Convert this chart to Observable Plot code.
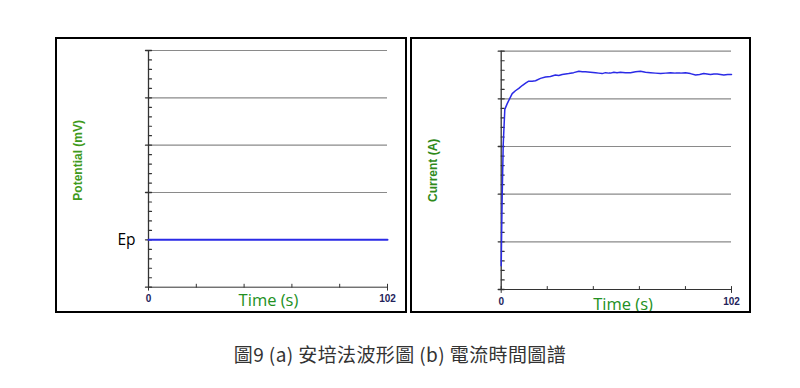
<!DOCTYPE html>
<html><head><meta charset="utf-8">
<script src="https://cdn.jsdelivr.net/npm/d3@7"></script>
<script src="https://cdn.jsdelivr.net/npm/@observablehq/plot@0.6"></script>
<style>
body{margin:0;background:#fff;}
#wrap{position:relative;width:800px;height:388px;background:#fff;overflow:hidden;}
.panel{position:absolute;}
.panel svg{outline:2px solid #000;outline-offset:-2px;display:block;background:#fff;}
#cap{position:absolute;left:0;width:800px;top:340px;text-align:center;font-family:"Noto Sans CJK TC","Noto Sans CJK SC",sans-serif;font-size:19px;letter-spacing:0.4px;color:#333;}
</style></head><body>
<div id="wrap">
  <div id="a" class="panel" style="left:55px;top:37px"></div>
  <div id="b" class="panel" style="left:410px;top:37px"></div>
  <div id="cap">圖9 (a) 安培法波形圖 (b) 電流時間圖譜</div>
</div>
<script>
// ---- data ----
const timeTicks = [0, 20.4, 40.8, 61.2, 81.6, 102];
const timeEnds = [0, 102];
const yMajor = [0, 1, 2, 3, 4, 5];
const yMinor = [0.2, 0.4, 0.6, 0.8, 1.2, 1.4, 1.6, 1.8, 2.2, 2.4, 2.6, 2.8, 3.2, 3.4, 3.6, 3.8, 4.2, 4.4, 4.6, 4.8];
const potentialGrid = [2, 3, 4, 5];
const currentGrid = [1, 2, 3, 4, 5];
const epTime = [0, 102];
const epLevel = [1, 1];
const currentTime = [0, 0.2, 0.44, 0.89, 1.6, 2.66, 3.7, 4.87, 6.3, 7.8, 9.3, 10.8, 12.2, 13.7, 15.2, 17.4, 19.6, 21.8, 24.0, 25.5, 27.0, 28.5, 29.9, 32.1, 34.4, 35.9, 37.3, 39.5, 41.8, 43.2, 44.7, 46.2, 47.7, 48.4, 49.9, 51.3, 52.8, 55.0, 57.3, 59.5, 61.7, 63.9, 66.1, 68.3, 70.6, 72.8, 75.0, 77.2, 79.4, 81.6, 83.8, 86.1, 87.9, 89.7, 91.2, 92.7, 94.2, 95.7, 97.1, 98.6, 100.3, 102];
const currentValue = [0.5, 1.2, 1.97, 3.03, 3.78, 3.9, 4.0, 4.11, 4.17, 4.22, 4.28, 4.33, 4.37, 4.37, 4.38, 4.43, 4.46, 4.47, 4.5, 4.49, 4.51, 4.52, 4.53, 4.55, 4.58, 4.57, 4.57, 4.56, 4.55, 4.54, 4.53, 4.55, 4.54, 4.54, 4.56, 4.55, 4.56, 4.55, 4.55, 4.57, 4.58, 4.56, 4.55, 4.54, 4.53, 4.54, 4.55, 4.54, 4.54, 4.55, 4.53, 4.5, 4.51, 4.53, 4.52, 4.51, 4.52, 4.52, 4.51, 4.5, 4.51, 4.51];
const xLabel = "Time (s)";
const potentialLabel = "Potential (mV)";
const currentLabel = "Current (A)";

const line = {draw(ctx, l) { ctx.moveTo(0, 0); ctx.lineTo(0, -l); }};
const axisColor = "#333";
const labelFill = "#23235a";

function panel({width, marginLeft, marginBottom, marginTop, grid, series, yLabel, yLabelY, yLabelDx, xLabelX, xLabelDy, yLabelColor, extra = []}) {
  return Plot.plot({
    width, height: 276, marginLeft, marginRight: 20, marginTop, marginBottom,
    x: {domain: [0, 102], axis: null},
    y: {domain: [0, 5], axis: null},
    style: {background: "transparent", overflow: "visible"},
    marks: [
      Plot.ruleY(grid, {x1: timeEnds[0], x2: timeEnds[1], stroke: "#8a8a8a", strokeWidth: 1.2}),
      Plot.ruleY([yMajor[0]], {x1: timeEnds[0], x2: timeEnds[1], stroke: axisColor, strokeWidth: 1}),
      Plot.ruleX([timeTicks[0]], {y1: yMajor[0], y2: yMajor[5], stroke: axisColor, strokeWidth: 1.3}),
      Plot.vector(yMajor, {x: timeTicks[0], y: d => d, length: 6, rotate: 90, anchor: "middle", shape: line, stroke: axisColor, strokeWidth: 1.3}),
      Plot.vector(yMinor, {x: timeTicks[0], y: d => d, length: 3, rotate: 90, anchor: "start", shape: line, stroke: axisColor, strokeWidth: 1.2}),
      Plot.vector(timeTicks.slice(1, 5), {x: d => d, y: yMajor[0], length: 3, rotate: 0, anchor: "start", shape: line, stroke: axisColor, strokeWidth: 1}),
      Plot.vector(timeEnds, {x: d => d, y: yMajor[0], length: 6, rotate: 0, anchor: "middle", shape: line, stroke: axisColor, strokeWidth: 1}),
      ...series,
      Plot.text(timeEnds, {x: d => d, y: yMajor[0], text: d => String(d), dy: 12, fill: labelFill, fontSize: 10, fontWeight: "bold", fontFamily: "Liberation Sans, Arial, sans-serif"}),
      Plot.text([xLabel], {x: xLabelX, y: yMajor[0], text: d => d, dy: xLabelDy, fill: "#229022", fontSize: 16.5, fontFamily: "Open Sans, sans-serif"}),
      Plot.text([yLabel], {x: timeTicks[0], y: yLabelY, text: d => d, dx: yLabelDx, rotate: -90, fill: yLabelColor, fontSize: 12, fontWeight: "bold", fontFamily: "Liberation Sans, Arial, sans-serif"}),
      ...extra
    ]
  });
}

const epData = epTime.map((t, i) => ({t, v: epLevel[i]}));
const currentData = currentTime.map((t, i) => ({t, v: currentValue[i]}));

document.getElementById("a").append(panel({
  width: 352, marginLeft: 93, marginTop: 13, marginBottom: 26.3,
  grid: potentialGrid,
  series: [Plot.line(epData, {x: "t", y: "v", stroke: "#2b2be6", strokeWidth: 2})],
  yLabel: potentialLabel, yLabelY: 2.68, yLabelDx: -70, xLabelX: 51.2, xLabelDy: 14,
  yLabelColor: "#3f9a1c",
  extra: [Plot.text(["Ep"], {x: timeTicks[0], y: epLevel[0], text: d => d, dx: -13, textAnchor: "end", fill: "#000", fontSize: 15.5, fontFamily: "Open Sans, sans-serif"})]
}));

document.getElementById("b").append(panel({
  width: 341, marginLeft: 90.7, marginTop: 13.7, marginBottom: 24,
  grid: currentGrid,
  series: [Plot.line(currentData, {x: "t", y: "v", stroke: "#2b2be6", strokeWidth: 1.5})],
  yLabel: currentLabel, yLabelY: 2.5, yLabelDx: -68, xLabelX: 54, xLabelDy: 15,
  yLabelColor: "#2f8a1a"
}));
</script>
</body></html>
